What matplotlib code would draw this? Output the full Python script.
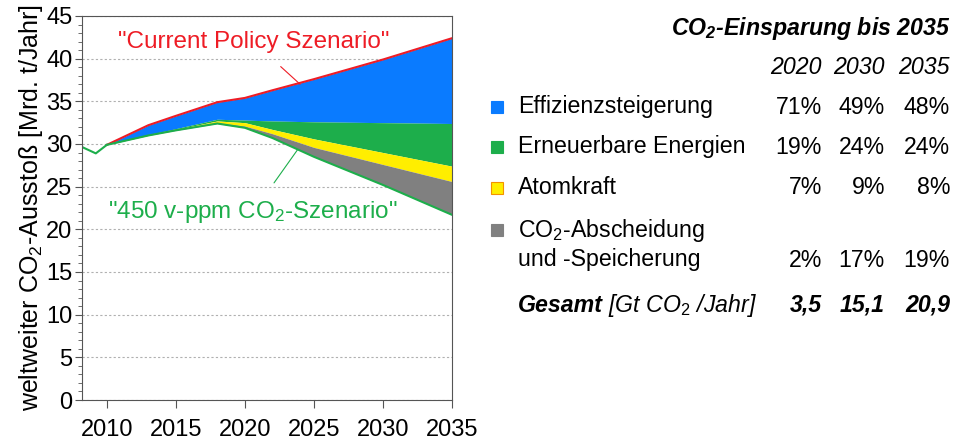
import matplotlib
matplotlib.use('Agg')
import matplotlib.pyplot as plt
from matplotlib.patches import Rectangle

plt.rcParams['font.family'] = ['Liberation Sans', 'DejaVu Sans']
plt.rcParams['mathtext.fontset'] = 'custom'
plt.rcParams['mathtext.rm'] = 'Liberation Sans'
plt.rcParams['mathtext.it'] = 'Liberation Sans:italic'
plt.rcParams['mathtext.bf'] = 'Liberation Sans:bold:italic'

# historische Werte
hist_years = [2008, 2009.2, 2010]
hist_values = [29.8, 28.9, 29.9]

# Szenarien
years = [2010, 2013, 2015, 2018, 2020, 2022, 2025, 2030, 2035]
current_policy = [29.9, 32.2, 33.3, 34.9, 35.4, 36.3, 37.6, 39.9, 42.4]
eff_bottom = [29.9, 31.1, 31.8, 32.9, 32.8, 32.7, 32.6, 32.5, 32.4]
renew_bottom = [29.9, 31.0, 31.7, 32.7, 32.5, 31.7, 30.6, 29.0, 27.4]
nuclear_bottom = [29.9, 31.0, 31.7, 32.5, 32.1, 31.2, 29.6, 27.6, 25.6]
szenario_450 = [29.9, 31.0, 31.6, 32.4, 31.9, 30.7, 28.5, 25.2, 21.7]

# Tabelle
categories = ['Effizienzsteigerung', 'Erneuerbare Energien', 'Atomkraft',
              'CO$_2$-Abscheidung\nund -Speicherung']
cat_colors = ['#0A7BFF', '#1DAE4B', '#FFEE00', '#808080']
table_years = ['2020', '2030', '2035']
shares = [['71%', '49%', '48%'],
          ['19%', '24%', '24%'],
          ['7%', '9%', '8%'],
          ['2%', '17%', '19%']]
totals = ['3,5', '15,1', '20,9']

W, H = 957, 440
fig = plt.figure(figsize=(W / 100, H / 100), dpi=100)
ax = fig.add_axes([82 / W, 40 / H, 370 / W, 384 / H])

def fx(x):
    return x / W

def fy(y):
    return 1 - y / H

ax.fill_between(years, current_policy, eff_bottom, color=cat_colors[0], lw=0)
ax.fill_between(years, eff_bottom, renew_bottom, color=cat_colors[1], lw=0)
ax.fill_between(years, renew_bottom, nuclear_bottom, color=cat_colors[2], lw=0)
ax.fill_between(years, nuclear_bottom, szenario_450, color=cat_colors[3], lw=0)
ax.plot(years, current_policy, color='#EE1C25', lw=1.5)
ax.plot(years, szenario_450, color='#1DAE4B', lw=1.5)
ax.plot(hist_years, hist_values, color='#1DAE4B', lw=1.5)

ax.set_xlim(2008.2, 2035)
ax.set_ylim(0, 45)
ax.set_xticks([2010, 2015, 2020, 2025, 2030, 2035])
ax.set_yticks(range(0, 46, 5))
ax.set_yticks(range(0, 46, 1), minor=True)
ax.tick_params(axis='both', labelsize=17, direction='out', color='#555555')
ax.tick_params(axis='y', which='minor', length=3, color='#555555')
ax.tick_params(axis='y', which='major', length=5, pad=2)
ax.tick_params(axis='x', length=6, pad=8)
for s in ax.spines.values():
    s.set_color('#555555')
ax.grid(axis='y', which='major', color='#b0b0b0', ls=(0, (2, 2)), lw=0.8)
ax.set_axisbelow(True)
ax.set_ylabel('weltweiter CO$_2$-Ausstoß [Mrd. t/Jahr]', fontsize=18, labelpad=1)

ax.annotate('"Current Policy Szenario"', xy=(2024.0, 37.0), xytext=(2020.6, 42.0),
            color='#EE1C25', fontsize=17.5, ha='center', va='center',
            arrowprops=dict(arrowstyle='-', color='#EE1C25', lw=0.8, shrinkA=12, shrinkB=0))
ax.annotate('"450 v-ppm CO$_2$-Szenario"', xy=(2023.8, 29.3), xytext=(2020.6, 22.0),
            color='#1DAE4B', fontsize=17.5, ha='center', va='center',
            arrowprops=dict(arrowstyle='-', color='#1DAE4B', lw=0.8, shrinkA=12, shrinkB=0))

# Tabelle rechts
fs = 16.7
fig.text(fx(950), fy(28), 'CO$_\\mathbf{2}$-Einsparung bis 2035', fontsize=fs,
         fontweight='bold', style='italic', ha='right', va='center')
col_x = [822, 885, 950]
for cx, yr in zip(col_x, table_years):
    fig.text(fx(cx), fy(67), yr, fontsize=fs, style='italic', ha='right', va='center')

row_y = [107, 147, 188, 244]
val_y = [107, 147, 188, 260]
box_y = [107, 147, 188, 230]
for i, cat in enumerate(categories):
    edge = '#F39200' if i == 2 else cat_colors[i]
    fig.patches.append(Rectangle((fx(491), fy(box_y[i]) - 6 / H), 12 / W, 12 / H,
                                 facecolor=cat_colors[i], edgecolor=edge, lw=0.8,
                                 transform=fig.transFigure, figure=fig))
    fig.text(fx(518), fy(row_y[i]), cat, fontsize=fs, ha='left', va='center', linespacing=1.2)
    for cx, v in zip(col_x, shares[i]):
        fig.text(fx(cx), fy(val_y[i]), v, fontsize=fs, ha='right', va='center')

fig.text(fx(518), fy(305), 'Gesamt', fontsize=fs, fontweight='bold', style='italic',
         ha='left', va='center')
fig.text(fx(608), fy(305), '[Gt CO$_2$ /Jahr]', fontsize=fs, style='italic',
         ha='left', va='center')
for cx, v in zip(col_x, totals):
    fig.text(fx(cx), fy(305), v, fontsize=fs, fontweight='bold', style='italic',
             ha='right', va='center')

fig.savefig('out.png', dpi=100)
